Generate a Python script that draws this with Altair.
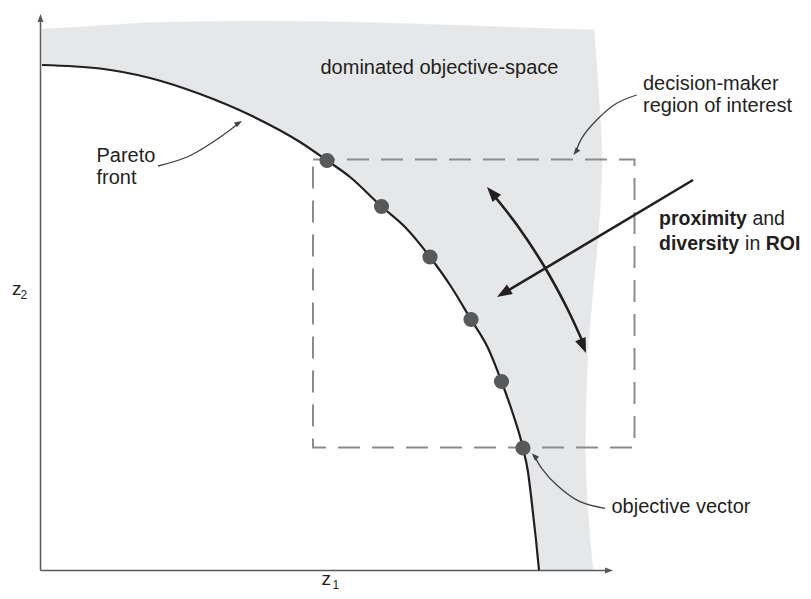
import altair as alt
import pandas as pd

# ---------------- data (page-pixel coordinates) ----------------
# Pareto front
front_x = [42, 100, 150, 200, 250, 300, 327, 350, 381.5, 405, 430, 450, 471, 488, 501.5, 513, 523, 528, 531.5, 536, 539]
front_y = [65, 68.5, 78, 94, 115, 142, 160.5, 177, 206.5, 227, 257, 285, 319.5, 348, 381.5, 414, 448, 472, 500, 540, 570]

# dominated objective-space outer boundary
top_x = [42, 80, 150, 250, 350, 450, 530, 594]
top_y = [29, 27, 22.5, 21, 22, 25, 28, 30]
right_x = [597, 601, 602, 600, 597, 592, 588, 586, 585, 587, 590, 593]
right_y = [70, 130, 165, 210, 250, 300, 350, 400, 450, 500, 540, 570]

# objective vectors (solutions)
sol_x = [327, 381.5, 430, 471, 501.5, 523]
sol_y = [160.5, 206.5, 257, 319.5, 381.5, 448]

# region of interest box
roi_x = [313, 634.5, 634.5, 313, 313]
roi_y = [159.5, 159.5, 447.5, 447.5, 159.5]

# axes
yaxis_x = [40.5, 40.5]
yaxis_y = [570.5, 19]
xaxis_x = [40.5, 608]
xaxis_y = [570.5, 570.5]

# big arrows
push_x = [693, 504]
push_y = [180, 293]
arc_x = [491.7, 517, 544, 567, 584.3]
arc_y = [192.7, 225, 266, 308, 345.4]

# thin annotation arrows
ann_pareto_x = [158, 187, 213, 230, 238.5]
ann_pareto_y = [166, 157, 142, 130, 123.2]
ann_roi_x = [636.7, 616.7, 596.7, 581.7, 575.8]
ann_roi_y = [95, 103.3, 120, 138.3, 151.9]
ann_obj_x = [605, 580, 556.7, 541.7, 534.5]
ann_obj_y = [508.3, 501.7, 485, 468.3, 456.1]

# arrowheads: tip x, tip y, angle, size, colour
head_x = [40.5, 613, 487, 586, 497, 242, 573.3, 531.7]
head_y = [14, 570.5, 187, 353, 297, 121, 155, 453.3]
head_a = [0, 90, 319, 158, 239, 59, 218.5, 315]
head_s = [100, 100, 352, 352, 352, 90, 90, 90]
head_c = ["#58595b", "#58595b", "#231f20", "#231f20", "#231f20", "#414042", "#414042", "#414042"]

# texts
reg_text = ["dominated objective-space", "decision-maker", "region of interest", "Pareto", "front",
            "and", "in", "objective vector", "z", "z", "2", "1"]
reg_x = [320.5, 643, 643, 96.5, 96.5, 752.4, 745.1, 611.5, 12, 321.5, 20.5, 332.5]
reg_y = [74, 90, 112, 162, 184, 225, 250, 513, 295, 585, 299, 588.5]
reg_size = [20, 20, 20, 20, 20, 19.5, 19.5, 20, 19, 19, 12, 12]
bold_text = ["proximity", "diversity", "ROI"]
bold_x = [659, 659, 765.7]
bold_y = [225, 250, 250]

# ---------------- tables ----------------
poly_x = top_x + right_x + front_x[::-1] + [42]
poly_y = top_y + right_y + front_y[::-1] + [29]
poly = pd.DataFrame({"x": poly_x, "y": poly_y, "i": range(len(poly_x))})

front = pd.DataFrame({"x": front_x, "y": front_y, "i": range(len(front_x))})
sols = pd.DataFrame({"x": sol_x, "y": sol_y})
roi = pd.DataFrame({"x": roi_x, "y": roi_y, "i": range(len(roi_x))})


def seg_rows(name, xs, ys, w, c):
    return [{"id": name, "x": a, "y": b, "i": k, "w": w, "c": c} for k, (a, b) in enumerate(zip(xs, ys))]


axes = pd.DataFrame(seg_rows("ya", yaxis_x, yaxis_y, 1.5, "#58595b") +
                    seg_rows("xa", xaxis_x, xaxis_y, 1.5, "#58595b"))
curves = pd.DataFrame(seg_rows("push", push_x, push_y, 2.6, "#231f20") +
                      seg_rows("arc", arc_x, arc_y, 2.6, "#231f20") +
                      seg_rows("ap", ann_pareto_x, ann_pareto_y, 1.3, "#414042") +
                      seg_rows("ar", ann_roi_x, ann_roi_y, 1.3, "#414042") +
                      seg_rows("ao", ann_obj_x, ann_obj_y, 1.3, "#414042"))
heads = pd.DataFrame({"x": head_x, "y": head_y, "a": head_a, "s": head_s, "c": head_c})
reg = pd.DataFrame({"x": reg_x, "y": reg_y, "t": reg_text, "s": reg_size})
bold = pd.DataFrame({"x": bold_x, "y": bold_y, "t": bold_text})

X = alt.X("x:Q", scale=alt.Scale(domain=[8, 803], nice=False, zero=False), axis=None)
Y = alt.Y("y:Q", scale=alt.Scale(domain=[8, 591], nice=False, zero=False, reverse=True), axis=None)

fill_layer = alt.Chart(poly).mark_line(fill="#e6e7e8", stroke="#e6e7e8", strokeWidth=0.5).encode(
    x=X, y=Y, order=alt.Order("i:Q"))

roi_layer = alt.Chart(roi).mark_line(stroke="#8a8c8e", strokeWidth=2, strokeDash=[22, 12]).encode(
    x=X, y=Y, order=alt.Order("i:Q"))

axes_layer = alt.Chart(axes).mark_line().encode(
    x=X, y=Y, order=alt.Order("i:Q"), detail=alt.Detail("id:N"),
    color=alt.Color("c:N", scale=None), strokeWidth=alt.StrokeWidth("w:Q", scale=None))

front_layer = alt.Chart(front).mark_line(stroke="#231f20", strokeWidth=2.2, interpolate="monotone").encode(
    x=X, y=Y, order=alt.Order("i:Q"))

sol_layer = alt.Chart(sols).mark_point(filled=True, shape="circle", size=230, color="#58595b", opacity=1,
                                       strokeWidth=0).encode(x=X, y=Y)

curve_layer = alt.Chart(curves).mark_line(interpolate="catmull-rom").encode(
    x=X, y=Y, order=alt.Order("i:Q"), detail=alt.Detail("id:N"),
    color=alt.Color("c:N", scale=None), strokeWidth=alt.StrokeWidth("w:Q", scale=None))

head_layer = alt.Chart(heads).mark_point(shape="M0,0L0.6,1.6L-0.6,1.6Z", filled=True, opacity=1,
                                         strokeWidth=0).encode(
    x=X, y=Y, angle=alt.Angle("a:Q", scale=None), size=alt.Size("s:Q", scale=None),
    color=alt.Color("c:N", scale=None))

reg_layer = alt.Chart(reg).mark_text(align="left", baseline="alphabetic", font="Liberation Sans",
                                     color="#231f20").encode(
    x=X, y=Y, text="t:N", size=alt.Size("s:Q", scale=None))

bold_layer = alt.Chart(bold).mark_text(align="left", baseline="alphabetic", font="Liberation Sans",
                                       fontWeight="bold", fontSize=19.5, color="#231f20").encode(
    x=X, y=Y, text="t:N")

chart = alt.layer(fill_layer, roi_layer, axes_layer, front_layer, sol_layer, curve_layer, head_layer,
                  reg_layer, bold_layer).properties(
    width=795, height=583, autosize=alt.AutoSizeParams(type="none"), padding=0,
    background="white").configure_view(strokeWidth=0)

chart.save("out.html", embed_options={"renderer": "svg", "actions": False})
